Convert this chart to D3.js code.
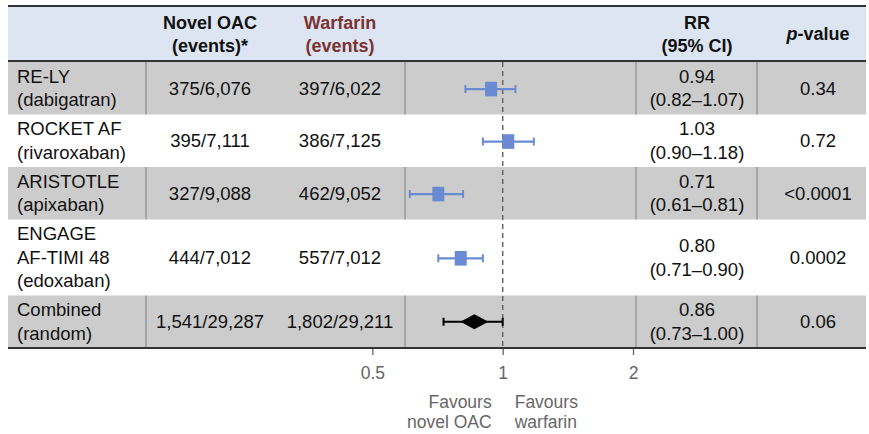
<!DOCTYPE html>
<html>
<head>
<meta charset="utf-8">
<script src="https://cdn.jsdelivr.net/npm/d3@7"></script>
<style>
  body { margin: 0; background: #fff; }
  text { font-family: "Liberation Sans", Arial, sans-serif; }
</style>
</head>
<body>
<script>

// data
var trialLabels = [
  ["RE-LY", "(dabigatran)"],
  ["ROCKET AF", "(rivaroxaban)"],
  ["ARISTOTLE", "(apixaban)"],
  ["ENGAGE", "AF-TIMI 48", "(edoxaban)"],
  ["Combined", "(random)"]
];
var noacEvents = ["375/6,076", "395/7,111", "327/9,088", "444/7,012", "1,541/29,287"];
var warfarinEvents = ["397/6,022", "386/7,125", "462/9,052", "557/7,012", "1,802/29,211"];
var rr = [0.94, 1.03, 0.71, 0.80, 0.86];
var ciLow = [0.82, 0.90, 0.61, 0.71, 0.73];
var ciHigh = [1.07, 1.18, 0.81, 0.90, 1.00];
var pValues = ["0.34", "0.72", "<0.0001", "0.0002", "0.06"];
var axisTicks = [0.5, 1, 2];

var W = 869, H = 434;
var left = 8, right = 866;
var headTop = 7, headBottom = 61;
var lineGap = 23.5;
var fs = 18;      // header
var fsBody = 18.5;

// column positions
var colNoac = 210, colWarf = 340, colRR = 697, colP = 818;
var separators = [146, 405, 636, 757];

var svg = d3.select("body").append("svg")
    .attr("width", W)
    .attr("height", H);

// rows, heights follow the number of label lines
var rows = [];
var yTop = 62;
trialLabels.forEach(function(lbl, i) {
  var h = lbl.length > 2 ? 76 : 52.5;
  rows.push({ i: i, top: yTop, h: h, mid: yTop + h / 2 });
  yTop += h;
});
var tableBottom = yTop;

// log scale for the forest column
var k = 188;
var xScale = d3.scaleLog()
    .domain([0.5, 2])
    .range([502.7 - k * Math.LN2, 502.7 + k * Math.LN2]);

// header background
svg.append("rect")
    .attr("x", left).attr("y", headTop)
    .attr("width", right - left).attr("height", headBottom - headTop)
    .attr("fill", "#dde5f2");

svg.append("line")
    .attr("x1", left).attr("x2", right)
    .attr("y1", 6).attr("y2", 6)
    .attr("stroke", "#333").attr("stroke-width", 2);
svg.append("line")
    .attr("x1", left).attr("x2", right)
    .attr("y1", headBottom).attr("y2", headBottom)
    .attr("stroke", "#333").attr("stroke-width", 2);

// header text
function headLines(x, lines, color) {
  var t = svg.append("text")
      .attr("text-anchor", "middle")
      .attr("font-size", fs)
      .attr("font-weight", "bold")
      .attr("fill", color);
  lines.forEach(function(s, j) {
    t.append("tspan")
        .attr("x", x)
        .attr("y", (headTop + headBottom) / 2 + (j - (lines.length - 1) / 2) * lineGap + fs * 0.35)
        .text(s);
  });
}
headLines(colNoac, ["Novel OAC", "(events)*"], "#111");
headLines(colWarf, ["Warfarin", "(events)"], "#7a3333");
headLines(colRR, ["RR", "(95% CI)"], "#111");

var pHead = svg.append("text")
    .attr("x", colP)
    .attr("y", (headTop + headBottom) / 2 + fs * 0.35)
    .attr("text-anchor", "middle")
    .attr("font-size", fs)
    .attr("font-weight", "bold")
    .attr("fill", "#111");
pHead.append("tspan").attr("font-style", "italic").text("p");
pHead.append("tspan").text("-value");

// row backgrounds (alternating grey / white)
var rowG = svg.selectAll(".row")
    .data(rows)
    .enter()
    .append("g")
    .attr("class", "row");

rowG.filter(function(d) { return d.i % 2 == 0; })
    .each(function(d) {
      var g = d3.select(this);
      g.append("rect")
          .attr("x", left).attr("y", d.top)
          .attr("width", right - left).attr("height", d.h)
          .attr("fill", "#cccccc");
      separators.forEach(function(sx) {
        g.append("line")
            .attr("x1", sx).attr("x2", sx)
            .attr("y1", d.top).attr("y2", d.top + d.h)
            .attr("stroke", "#9a9a9a").attr("stroke-width", 1.5);
      });
    });

// multi-line text helper
function cellText(g, x, mid, lines, anchor) {
  var t = g.append("text")
      .attr("text-anchor", anchor)
      .attr("font-size", fsBody)
      .attr("fill", "#111");
  lines.forEach(function(s, j) {
    t.append("tspan")
        .attr("x", x)
        .attr("y", mid + (j - (lines.length - 1) / 2) * lineGap + fsBody * 0.35)
        .text(s);
  });
}

rowG.each(function(d) {
  var g = d3.select(this);
  cellText(g, 17, d.mid, trialLabels[d.i], "start");
  cellText(g, colNoac, d.mid, [noacEvents[d.i]], "middle");
  cellText(g, colWarf, d.mid, [warfarinEvents[d.i]], "middle");
  cellText(g, colRR, d.mid, [d3.format(".2f")(rr[d.i]),
    "(" + d3.format(".2f")(ciLow[d.i]) + "\u2013" + d3.format(".2f")(ciHigh[d.i]) + ")"], "middle");
  cellText(g, colP, d.mid, [pValues[d.i]], "middle");
});

// reference line at 1
svg.append("line")
    .attr("x1", xScale(1)).attr("x2", xScale(1))
    .attr("y1", headBottom + 1).attr("y2", tableBottom)
    .attr("stroke", "#666")
    .attr("stroke-width", 1.5)
    .attr("stroke-dasharray", "5,4");

// confidence intervals
var blue = "#6a8bd1";
rows.forEach(function(d) {
  var last = d.i == rows.length - 1;
  var c = last ? "#000" : blue;
  var y = d.mid + (last ? 0 : 0.8);
  svg.append("line")
      .attr("x1", xScale(ciLow[d.i])).attr("x2", xScale(ciHigh[d.i]))
      .attr("y1", y).attr("y2", y)
      .attr("stroke", c).attr("stroke-width", 2.2);
  [ciLow[d.i], ciHigh[d.i]].forEach(function(v) {
    svg.append("line")
        .attr("x1", xScale(v)).attr("x2", xScale(v))
        .attr("y1", y - 4).attr("y2", y + 4)
        .attr("stroke", c).attr("stroke-width", 2);
  });
  var cx = xScale(rr[d.i]);
  if (last) {
    svg.append("path")
        .attr("d", "M" + (cx - 14) + "," + y + "L" + cx + "," + (y - 7.5) +
                   "L" + (cx + 14) + "," + y + "L" + cx + "," + (y + 7.5) + "Z")
        .attr("fill", "#000");
  } else {
    svg.append("rect")
        .attr("x", cx - 6).attr("y", y - 7.3)
        .attr("width", 12).attr("height", 14.6)
        .attr("fill", blue);
  }
});

// bottom axis
svg.append("line")
    .attr("x1", left).attr("x2", right)
    .attr("y1", tableBottom).attr("y2", tableBottom)
    .attr("stroke", "#333").attr("stroke-width", 2);

var axis = svg.append("g")
    .attr("transform", "translate(0," + (tableBottom + 1) + ")")
    .call(d3.axisBottom(xScale)
        .tickValues(axisTicks)
        .tickFormat(d3.format("")))
    .attr("font-size", 17.5);
axis.select(".domain").remove();
axis.selectAll(".tick line").attr("stroke", "#777").attr("stroke-width", 1.5).attr("y2", 6);
axis.selectAll(".tick text")
    .attr("fill", "#666")
    .attr("y", 18)
    .attr("font-family", "Liberation Sans, Arial, sans-serif");

// favours labels
var fav = [["Favours", "novel OAC"], ["Favours", "warfarin"]];
fav.forEach(function(lines, j) {
  var t = svg.append("text")
      .attr("text-anchor", j == 0 ? "end" : "start")
      .attr("font-size", 17.5)
      .attr("fill", "#666");
  lines.forEach(function(s, n) {
    t.append("tspan")
        .attr("x", j == 0 ? xScale(1) - 11 : xScale(1) + 12)
        .attr("y", 408 + n * 20)
        .text(s);
  });
});

</script>
</body>
</html>
